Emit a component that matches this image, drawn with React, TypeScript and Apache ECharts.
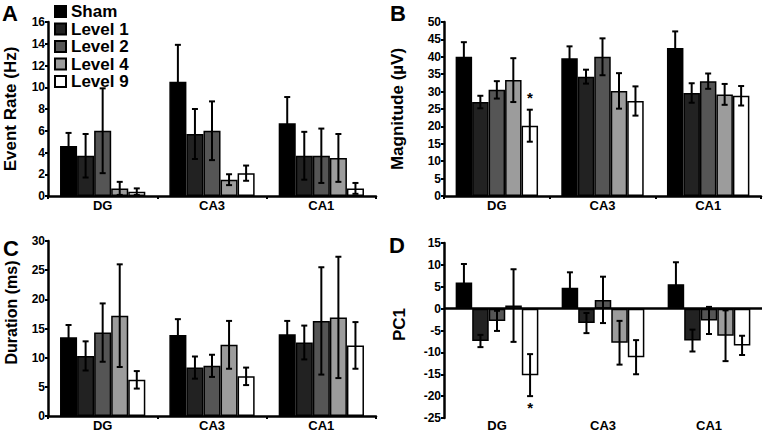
import React, { useEffect, useRef } from 'react';
import * as echarts from 'echarts';

const categories = ['DG', 'CA3', 'CA1'];
const groups = ['Sham', 'Level 1', 'Level 2', 'Level 4', 'Level 9'];
const groupColors = ['#000000', '#222222', '#555555', '#9c9c9c', '#ffffff'];

// Panel A: Event Rate (Hz) — rows = groups, cols = categories
const rateMean = [
  [4.6, 10.5, 6.7],
  [3.7, 5.7, 3.7],
  [6.0, 6.0, 3.7],
  [0.7, 1.5, 3.5],
  [0.4, 2.1, 0.7],
];
const rateErr = [
  [1.2, 3.4, 2.4],
  [2.0, 2.3, 2.2],
  [3.9, 2.7, 2.5],
  [0.6, 0.5, 2.2],
  [0.3, 0.7, 0.5],
];

// Panel B: Magnitude (µV)
const magMean = [
  [40.0, 39.6, 42.5],
  [27.0, 34.3, 29.6],
  [30.5, 40.0, 33.0],
  [33.3, 30.2, 29.2],
  [20.2, 27.3, 28.8],
];
const magErr = [
  [4.2, 3.4, 4.8],
  [1.8, 2.0, 2.8],
  [2.5, 5.3, 2.2],
  [6.3, 5.1, 3.0],
  [4.6, 4.2, 2.8],
];

// Panel C: Duration (ms)
const durMean = [
  [13.5, 13.9, 14.0],
  [10.3, 8.3, 12.6],
  [14.3, 8.6, 16.3],
  [17.2, 12.2, 16.9],
  [6.2, 6.8, 12.1],
];
const durErr = [
  [2.1, 2.7, 2.3],
  [2.5, 1.9, 2.9],
  [5.0, 1.9, 9.2],
  [8.8, 4.1, 10.4],
  [1.5, 1.5, 4.0],
];

// Panel D: PC1
const pcMean = [
  [6.0, 4.8, 5.6],
  [-7.4, -3.3, -7.3],
  [-2.8, 2.0, -2.7],
  [0.7, -7.8, -6.2],
  [-15.2, -11.1, -8.4],
];
const pcErr = [
  [4.2, 3.5, 5.0],
  [1.4, 2.3, 2.5],
  [2.3, 5.3, 3.1],
  [8.3, 5.0, 5.8],
  [4.8, 3.9, 2.2],
];

// significance markers: [categoryIndex, groupIndex, y]
const magSig = [[0, 4, 28.3]];
const pcSig = [[0, 4, -22.6]];

const FONT = '"Liberation Sans", Arial, Helvetica, sans-serif';
const GAP = 0.22;

const panels = [
  { letter: 'A', title: 'Event Rate (Hz)', titleSize: 17, mean: rateMean, err: rateErr, sig: [], min: 0, max: 16, interval: 2,
    grid: { left: 48, top: 22, width: 328, height: 174 }, nameGap: 29, labelMargin: 3, letterPos: [2, 2] },
  { letter: 'B', title: 'Magnitude (µV)', titleSize: 17, mean: magMean, err: magErr, sig: magSig, min: 0, max: 50, interval: 5,
    grid: { left: 444, top: 22, width: 317, height: 174 }, nameGap: 38, labelMargin: 3, letterPos: [390, 2] },
  { letter: 'C', title: 'Duration (ms)', titleSize: 16, mean: durMean, err: durErr, sig: [], min: 0, max: 30, interval: 5,
    grid: { left: 48, top: 241, width: 328, height: 176 }, nameGap: 29, labelMargin: 3, letterPos: [3, 237] },
  { letter: 'D', title: 'PC1', titleSize: 17, mean: pcMean, err: pcErr, sig: pcSig, min: -25, max: 15, interval: 5,
    grid: { left: 444, top: 243, width: 318, height: 176 }, nameGap: 36, labelMargin: 1, letterPos: [389, 234] },
];

function buildOption() {
  const grid: any[] = [];
  const xAxis: any[] = [];
  const yAxis: any[] = [];
  const series: any[] = [];
  const graphic: any[] = [];

  panels.forEach((p, pi) => {
    grid.push({ ...p.grid, containLabel: false });
    const isD = pi === 3;
    xAxis.push({
      type: 'category',
      gridIndex: pi,
      data: categories,
      axisLine: { show: !isD, onZero: !isD, lineStyle: { color: '#000', width: 2.5 } },
      axisTick: { show: !isD, length: 3, lineStyle: { color: '#000', width: 2 } },
      axisLabel: { color: '#000', fontWeight: 'bold', fontSize: 13, fontFamily: FONT, margin: p.labelMargin },
      splitLine: { show: false },
    });
    yAxis.push({
      type: 'value',
      gridIndex: pi,
      min: p.min,
      max: p.max,
      interval: p.interval,
      name: p.title,
      nameLocation: 'middle',
      nameRotate: 90,
      nameGap: p.nameGap,
      nameTextStyle: {
        color: '#000', fontWeight: 'bold', fontSize: p.titleSize, fontFamily: FONT,
        padding: pi === 2 ? [0, 0, 0, 32] : pi === 3 ? [0, 0, 0, 12] : 0,
      },
      axisLine: { show: true, onZero: false, lineStyle: { color: '#000', width: 2.5 } },
      axisTick: { show: true, length: 3, lineStyle: { color: '#000', width: 2 } },
      axisLabel: { color: '#000', fontWeight: 'bold', fontSize: 12, fontFamily: FONT, margin: 3 },
      splitLine: { show: false },
    });

    groups.forEach((g, gi) => {
      const s: any = {
        type: 'bar',
        name: g,
        xAxisIndex: pi,
        yAxisIndex: pi,
        data: p.mean[gi],
        barGap: '0%',
        barCategoryGap: GAP * 100 + '%',
        itemStyle: { color: groupColors[gi], borderColor: '#000', borderWidth: 1.5 },
        z: 2,
      };
      if (isD && gi === 0) {
        s.markLine = {
          silent: true,
          symbol: 'none',
          label: { show: false },
          lineStyle: { color: '#000', width: 2.5, type: 'solid' },
          data: [{ yAxis: 0 }],
          z: 5,
        };
      }
      series.push(s);
    });

    const errData: number[][] = [];
    groups.forEach((_, gi) => {
      categories.forEach((_, ci) => {
        const m = p.mean[gi][ci];
        const e = p.err[gi][ci];
        errData.push([ci, gi, m - e, m + e]);
      });
    });

    series.push({
      type: 'custom',
      name: 'err' + pi,
      xAxisIndex: pi,
      yAxisIndex: pi,
      data: errData,
      encode: { x: 0, y: [2, 3] },
      z: 4,
      silent: true,
      renderItem: (params: any, api: any) => {
        const ci = api.value(0);
        const gi = api.value(1);
        const lo = api.value(2);
        const hi = api.value(3);
        const band = api.size([1, 0])[0];
        const bw = (band * (1 - GAP)) / groups.length;
        const xc = api.coord([ci, 0])[0] + (gi - (groups.length - 1) / 2) * bw;
        const yLo = api.coord([ci, lo])[1];
        const yHi = api.coord([ci, hi])[1];
        const cap = 3;
        const st = { stroke: '#000', lineWidth: 2 };
        return {
          type: 'group',
          children: [
            { type: 'line', shape: { x1: xc, y1: yLo, x2: xc, y2: yHi }, style: st },
            { type: 'line', shape: { x1: xc - cap, y1: yLo, x2: xc + cap, y2: yLo }, style: st },
            { type: 'line', shape: { x1: xc - cap, y1: yHi, x2: xc + cap, y2: yHi }, style: st },
          ],
        };
      },
    });

    if (p.sig.length) {
      series.push({
        type: 'custom',
        name: 'sig' + pi,
        xAxisIndex: pi,
        yAxisIndex: pi,
        data: p.sig,
        encode: { x: 0, y: 2 },
        z: 4,
        silent: true,
        renderItem: (params: any, api: any) => {
          const ci = api.value(0);
          const gi = api.value(1);
          const y = api.value(2);
          const band = api.size([1, 0])[0];
          const bw = (band * (1 - GAP)) / groups.length;
          const xc = api.coord([ci, 0])[0] + (gi - (groups.length - 1) / 2) * bw;
          const yc = api.coord([ci, y])[1];
          return {
            type: 'text',
            x: xc,
            y: yc,
            style: {
              text: '*', fill: '#000', font: 'bold 15px ' + FONT,
              align: 'center', verticalAlign: 'middle',
            },
          };
        },
      });
    }

    graphic.push({
      type: 'text',
      left: p.letterPos[0],
      top: p.letterPos[1],
      style: { text: p.letter, fill: '#000', font: 'bold 22px ' + FONT },
    });
  });

  return {
    animation: false,
    backgroundColor: '#ffffff',
    grid,
    xAxis,
    yAxis,
    series,
    graphic,
    legend: {
      data: groups,
      orient: 'vertical',
      left: 54,
      top: 3,
      padding: 0,
      itemWidth: 11,
      itemHeight: 11,
      itemGap: 0.5,
      icon: 'rect',
      selectedMode: false,
      textStyle: { color: '#000', fontWeight: 'bold', fontSize: 17, fontFamily: FONT, lineHeight: 16 },
    },
  };
}

export default function App() {
  const ref = useRef<HTMLDivElement>(null);
  useEffect(() => {
    if (!ref.current) return;
    const chart = echarts.init(ref.current, null, { renderer: 'svg' });
    chart.setOption(buildOption() as any);
    return () => chart.dispose();
  }, []);
  return (
    <div
      ref={ref}
      style={{ position: 'absolute', left: 0, top: 0, width: 771, height: 432, background: '#fff' }}
    />
  );
}
